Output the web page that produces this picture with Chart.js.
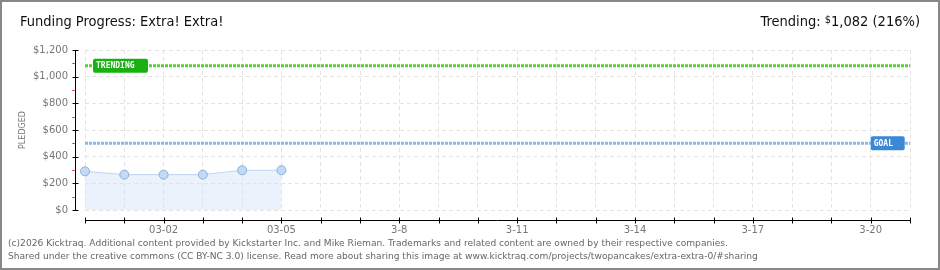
<!DOCTYPE html>
<html>
<head>
<meta charset="utf-8">
<script src="https://cdn.jsdelivr.net/npm/chart.js@4.4.1/dist/chart.umd.min.js"></script>
<style>
  html, body { margin: 0; padding: 0; background: #fff; }
  #frame { position: relative; width: 936px; height: 266px; border: 2px solid #888; overflow: hidden; }
  #frame canvas { position: absolute; left: -2px; top: -2px; }
  .head { position: absolute; top: 11px; font: 14.5px "Liberation Sans Narrow", "DejaVu Sans Condensed", sans-serif; color: #111; white-space: nowrap; }
  #title { left: 18px; }
  #trend { right: 18px; }
  .foot { position: absolute; left: 6px; font: 9.1px "DejaVu Sans", sans-serif; color: #666; white-space: nowrap; }
</style>
</head>
<body>
<div id="frame">
  <canvas id="chart" width="940" height="270"></canvas>
  <div class="head" id="title">Funding Progress: Extra! Extra!</div>
  <div class="head" id="trend">Trending: <span style="font-size:11px;vertical-align:3px">$</span>1,082 (216%)</div>
  <div class="foot" style="top:236px">(c)2026 Kicktraq. Additional content provided by Kickstarter Inc. and Mike Rieman. Trademarks and related content are owned by their respective companies.</div>
  <div class="foot" style="top:249px">Shared under the creative commons (CC BY-NC 3.0) license. Read more about sharing this image at www.kicktraq.com/projects/twopancakes/extra-extra-0/#sharing</div>
</div>
<script>
// day labels as printed on the axis (Feb 29 .. Mar 21)
const days = ['02-29', '03-01', '03-02', '03-03', '03-04', '03-05', '3-6', '3-7', '3-8', '3-9', '3-10',
  '3-11', '3-12', '3-13', '3-14', '3-15', '3-16', '3-17', '3-18', '3-19', '3-20', '3-21'];
const pledged = [290, 265, 265, 265, 298, 298];
const goal = 500;
const trending = 1082;

const grey = '#777';
const dash = [4, 3];

// axes, red minor ticks and the GOAL / TRENDING tags
const axisPlugin = {
  id: 'axisPlugin',
  afterDraw(chart) {
    const { ctx, chartArea: area, scales: { x, y } } = chart;
    ctx.save();
    ctx.strokeStyle = '#000';
    ctx.lineWidth = 1;
    const ax = area.left - 9.5;
    ctx.beginPath();
    ctx.moveTo(ax, y.getPixelForValue(1200));
    ctx.lineTo(ax, y.getPixelForValue(0));
    ctx.stroke();
    for (let v = 0; v <= 1200; v += 100) {
      const py = Math.round(y.getPixelForValue(v)) + 0.5;
      ctx.strokeStyle = v % 200 ? '#e00' : '#000';
      ctx.beginPath();
      ctx.moveTo(ax - 3, py);
      ctx.lineTo(v % 200 ? ax - 1 : ax + 3, py);
      ctx.stroke();
    }
    const ay = area.bottom + 10.5;
    ctx.strokeStyle = '#000';
    ctx.beginPath();
    ctx.moveTo(area.left, ay);
    ctx.lineTo(area.right, ay);
    ctx.stroke();
    days.forEach((d, i) => {
      const px = Math.round(x.getPixelForValue(i)) + 0.5;
      ctx.beginPath();
      ctx.moveTo(px, ay - 3);
      ctx.lineTo(px, ay + 3);
      ctx.stroke();
    });

    const tag = (text, left, cy, w, color) => {
      ctx.fillStyle = color;
      ctx.beginPath();
      ctx.roundRect(left, cy - 7, w, 14, 2);
      ctx.fill();
      ctx.fillStyle = '#fff';
      ctx.font = 'bold 8px "DejaVu Sans Mono", monospace';
      ctx.textBaseline = 'middle';
      ctx.fillText(text, left + 3, cy + 0.5);
    };
    tag('TRENDING', area.left + 8, y.getPixelForValue(trending), 55, '#17b20f');
    tag('GOAL', x.getPixelForValue(20), y.getPixelForValue(goal), 34, '#3c87d6');
    ctx.restore();
  }
};

new Chart(document.getElementById('chart'), {
  type: 'line',
  data: {
    labels: days,
    datasets: [
      {
        data: pledged,
        borderColor: '#bcd6f2',
        borderWidth: 1,
        backgroundColor: 'rgba(214,230,250,0.5)',
        fill: 'origin',
        pointRadius: 4.5,
        pointBackgroundColor: '#c2daf6',
        pointBorderColor: '#8faed2',
        pointBorderWidth: 1,
        tension: 0
      },
      {
        data: days.map(() => goal),
        borderColor: '#8ab8e8',
        borderWidth: 3,
        borderDash: [3, 1],
        pointRadius: 0,
        fill: false
      },
      {
        data: days.map(() => trending),
        borderColor: '#5acd3a',
        borderWidth: 3,
        borderDash: [3, 1],
        pointRadius: 0,
        fill: false
      }
    ]
  },
  options: {
    responsive: false,
    animation: false,
    events: [],
    layout: { padding: { top: 50, right: 30, left: 0, bottom: 0 } },
    plugins: { legend: { display: false }, tooltip: { enabled: false } },
    scales: {
      x: {
        offset: false,
        afterFit: s => { s.height = 60; },
        border: { display: false, dash: dash },
        grid: { color: '#e3e3e3', drawTicks: false },
        ticks: {
          autoSkip: false,
          maxRotation: 0,
          padding: 14,
          color: grey,
          font: { family: 'DejaVu Sans', size: 10 },
          callback: (v, i) => (i % 3 === 2 ? days[i] : '')
        }
      },
      y: {
        min: 0,
        max: 1200,
        afterFit: s => { s.width = 85; },
        border: { display: false, dash: dash },
        grid: { color: '#e3e3e3', drawTicks: false },
        ticks: {
          stepSize: 200,
          padding: 17,
          color: grey,
          font: { family: 'DejaVu Sans', size: 10 },
          callback: v => '$' + v.toLocaleString('en-US')
        },
        title: {
          display: true,
          text: 'PLEDGED',
          color: grey,
          font: { family: 'DejaVu Sans', size: 8 },
          padding: { top: 18 }
        }
      }
    }
  },
  plugins: [axisPlugin]
});
</script>
</body>
</html>
